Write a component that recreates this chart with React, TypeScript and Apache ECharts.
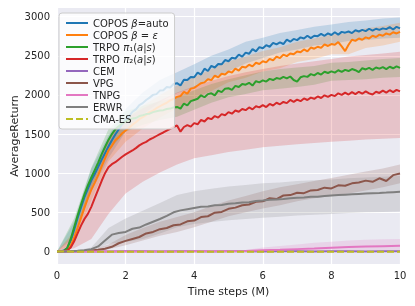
import React, { useEffect, useRef } from 'react';
import * as echarts from 'echarts';

const TIME = [
  0, 0.1, 0.2, 0.3, 0.4, 0.5, 0.6, 0.7, 0.8, 0.9,
  1, 1.1, 1.2, 1.3, 1.4, 1.5, 1.6, 1.7, 1.8, 1.9,
  2, 2.1, 2.2, 2.3, 2.4, 2.5, 2.6, 2.7, 2.8, 2.9,
  3, 3.1, 3.2, 3.3, 3.4, 3.5, 3.6, 3.7, 3.8, 3.9,
  4, 4.1, 4.2, 4.3, 4.4, 4.5, 4.6, 4.7, 4.8, 4.9,
  5, 5.1, 5.2, 5.3, 5.4, 5.5, 5.6, 5.7, 5.8, 5.9,
  6, 6.1, 6.2, 6.3, 6.4, 6.5, 6.6, 6.7, 6.8, 6.9,
  7, 7.1, 7.2, 7.3, 7.4, 7.5, 7.6, 7.7, 7.8, 7.9,
  8, 8.1, 8.2, 8.3, 8.4, 8.5, 8.6, 8.7, 8.8, 8.9,
  9, 9.1, 9.2, 9.3, 9.4, 9.5, 9.6, 9.7, 9.8, 9.9,
  10,
];
const TIME_MID = [
  0, 0.2, 0.4, 0.6, 0.8, 1, 1.2, 1.4, 1.6, 1.8,
  2, 2.2, 2.4, 2.6, 2.8, 3, 3.2, 3.4, 3.6, 3.8,
  4, 4.2, 4.4, 4.6, 4.8, 5, 5.2, 5.4, 5.6, 5.8,
  6, 6.2, 6.4, 6.6, 6.8, 7, 7.2, 7.4, 7.6, 7.8,
  8, 8.2, 8.4, 8.6, 8.8, 9, 9.2, 9.4, 9.6, 9.8,
  10,
];
const TIME_COARSE = [0, 0.5, 1, 1.5, 2, 2.5, 3, 3.5, 4, 4.5, 5, 5.5, 6, 6.5, 7, 7.5, 8, 8.5, 9, 9.5, 10];

const Y_TICKS = [0, 500, 1000, 1500, 2000, 2500, 3000];

// mean curves (fine resolution)
const COPOS_AUTO = [
  0, 3, 12, 45, 135, 275, 425, 560, 690, 800,
  905, 990, 1080, 1170, 1255, 1340, 1420, 1495, 1560, 1625,
  1680, 1725, 1785, 1815, 1870, 1895, 1935, 1965, 2000, 2010,
  2055, 2060, 2100, 2095, 2140, 2150, 2120, 2195, 2190, 2230,
  2225, 2285, 2260, 2335, 2305, 2370, 2350, 2395, 2390, 2445,
  2430, 2475, 2465, 2515, 2490, 2540, 2525, 2585, 2555, 2610,
  2595, 2635, 2615, 2665, 2645, 2670, 2650, 2705, 2680, 2715,
  2700, 2735, 2720, 2755, 2725, 2755, 2750, 2780, 2755, 2785,
  2765, 2800, 2770, 2805, 2795, 2810, 2790, 2825, 2810, 2830,
  2815, 2845, 2820, 2845, 2830, 2850, 2840, 2865, 2835, 2870,
  2850,
];
const COPOS_EPS = [
  0, 2, 6, 22, 75, 175, 300, 430, 560, 680,
  790, 880, 975, 1085, 1190, 1290, 1350, 1420, 1460, 1510,
  1545, 1580, 1620, 1650, 1690, 1715, 1745, 1780, 1800, 1830,
  1855, 1880, 1900, 1930, 1950, 1975, 1985, 2040, 2015, 2080,
  2090, 2120, 2150, 2160, 2200, 2190, 2245, 2225, 2270, 2260,
  2300, 2285, 2335, 2310, 2360, 2350, 2385, 2365, 2410, 2395,
  2430, 2415, 2460, 2440, 2490, 2470, 2515, 2495, 2530, 2520,
  2555, 2545, 2580, 2555, 2605, 2590, 2615, 2600, 2645, 2625,
  2650, 2640, 2675, 2620, 2560, 2640, 2705, 2690, 2720, 2705,
  2735, 2720, 2755, 2740, 2770, 2755, 2785, 2770, 2800, 2785,
  2805,
];
const TRPO_PI1 = [
  0, 3, 8, 45, 160, 310, 460, 600, 730, 845,
  945, 1040, 1135, 1240, 1335, 1425, 1500, 1560, 1600, 1635,
  1660, 1680, 1700, 1705, 1730, 1740, 1755, 1760, 1780, 1790,
  1800, 1805, 1820, 1825, 1840, 1846, 1825, 1890, 1865, 1920,
  1935, 1950, 1995, 1970, 2010, 2020, 1995, 2055, 2035, 2080,
  2085, 2065, 2115, 2100, 2140, 2130, 2155, 2120, 2175, 2160,
  2185, 2170, 2205, 2190, 2215, 2205, 2230, 2210, 2235, 2190,
  2170, 2225, 2240, 2230, 2265, 2250, 2280, 2260, 2295, 2280,
  2300, 2285, 2315, 2295, 2320, 2305, 2330, 2315, 2290, 2340,
  2325, 2345, 2320, 2350, 2335, 2355, 2330, 2360, 2340, 2365,
  2345,
];
const TRPO_PI2 = [
  0, 2, 5, 12, 50, 130, 230, 330, 415, 480,
  570, 680, 790, 900, 1000, 1075, 1115, 1140, 1175, 1210,
  1240, 1265, 1290, 1320, 1355, 1380, 1400, 1430, 1450, 1475,
  1500, 1520, 1545, 1565, 1590, 1610, 1530, 1590, 1615, 1595,
  1640, 1625, 1680, 1660, 1705, 1690, 1730, 1710, 1755, 1740,
  1780, 1760, 1800, 1785, 1820, 1805, 1840, 1815, 1855, 1840,
  1870, 1845, 1885, 1865, 1900, 1880, 1910, 1895, 1935, 1910,
  1940, 1920, 1955, 1935, 1965, 1950, 1980, 1960, 1995, 1975,
  2000, 1985, 2020, 2000, 2030, 2005, 2035, 2010, 2040, 2015,
  2045, 2020, 2005, 2040, 2025, 2055, 2030, 2060, 2035, 2065,
  2045,
];
// medium resolution
const VPG = [
  0, 1, 2, 4, 8, 14, 22, 35, 60, 105,
  135, 160, 185, 230, 250, 285, 300, 335, 345, 385,
  395, 440, 450, 495, 505, 545, 560, 590, 600, 635,
  640, 680, 670, 715, 720, 750, 745, 780, 785, 815,
  805, 845, 840, 870, 880, 905, 890, 935, 900, 975,
  995,
];
const ERWR = [
  0, 1, 3, 8, 15, 30, 65, 140, 215, 235,
  250, 290, 305, 345, 380, 415, 455, 500, 525, 540,
  555, 570, 575, 590, 595, 610, 615, 625, 630, 645,
  650, 660, 665, 670, 680, 685, 690, 700, 700, 710,
  715, 720, 725, 730, 735, 740, 745, 748, 752, 758,
  762,
];
// coarse resolution
const TNPG = [0, 0, 0, 0, 1, 1, 1, 1, 2, 2, 3, 6, 15, 22, 30, 38, 48, 58, 63, 68, 72];
const CEM = [0, 1, 2, 1, 2, 2, 1, 2, 2, 1, 2, 2, 1, 2, 2, 1, 2, 2, 1, 2, 2];
const CMA_ES = [0, -2, -3, -2, -3, -3, -2, -3, -3, -2, -3, -3, -2, -3, -3, -2, -3, -3, -2, -3, -3];

// bands (coarse resolution)
const COPOS_AUTO_UP = [0, 380, 1060, 1480, 1820, 2030, 2190, 2290, 2390, 2500, 2580, 2680, 2730, 2790, 2830, 2870, 2900, 2930, 2950, 2975, 2990];
const COPOS_AUTO_LO = [0, 180, 760, 1190, 1530, 1750, 1910, 2020, 2100, 2220, 2300, 2400, 2470, 2540, 2580, 2630, 2650, 2690, 2700, 2720, 2730];
const COPOS_EPS_UP = [0, 260, 930, 1430, 1690, 1860, 2000, 2120, 2230, 2330, 2430, 2490, 2560, 2610, 2680, 2720, 2770, 2790, 2850, 2880, 2920];
const COPOS_EPS_LO = [0, 100, 650, 1150, 1400, 1570, 1710, 1830, 1950, 2050, 2160, 2220, 2300, 2340, 2420, 2460, 2520, 2520, 2600, 2630, 2680];
const TRPO_PI1_UP = [0, 420, 1070, 1560, 1790, 1860, 1920, 1970, 2060, 2140, 2200, 2250, 2300, 2330, 2350, 2370, 2410, 2420, 2440, 2460, 2470];
const TRPO_PI1_LO = [0, 210, 820, 1290, 1530, 1620, 1680, 1720, 1810, 1900, 1970, 2010, 2060, 2080, 2100, 2130, 2180, 2190, 2200, 2220, 2230];
const TRPO_PI2_UP = [0, 220, 900, 1450, 1700, 1830, 1930, 2030, 2110, 2180, 2240, 2290, 2330, 2370, 2400, 2430, 2460, 2490, 2510, 2530, 2550];
const TRPO_PI2_LO = [0, 40, 160, 480, 740, 890, 1010, 1110, 1190, 1230, 1270, 1300, 1330, 1350, 1370, 1385, 1400, 1415, 1430, 1440, 1450];
const VPG_UP = [0, 3, 25, 90, 210, 300, 380, 440, 500, 580, 650, 710, 770, 820, 860, 900, 940, 980, 1020, 1060, 1110];
const VPG_LO = [0, 0, 5, 30, 80, 140, 200, 250, 310, 380, 450, 500, 550, 590, 640, 680, 710, 740, 780, 820, 870];
const ERWR_UP = [0, 8, 50, 300, 420, 520, 620, 720, 770, 800, 830, 850, 870, 880, 900, 910, 920, 935, 945, 955, 965];
const ERWR_LO = [0, 2, 15, 100, 120, 160, 230, 310, 350, 375, 400, 415, 430, 445, 460, 470, 480, 490, 500, 505, 510];
const TNPG_UP = [0, 0, 1, 1, 2, 2, 3, 3, 4, 5, 8, 20, 50, 70, 90, 110, 125, 140, 150, 155, 160];
const TNPG_LO = [0, 0, 0, 0, 0, 0, 0, 0, 0, 0, 0, 0, 0, 0, 2, 5, 8, 10, 12, 14, 15];

const NAMES = ['COPOS β=auto', 'COPOS β = ε', 'TRPO π₁(a|s)', 'TRPO π₂(a|s)', 'CEM', 'VPG', 'TNPG', 'ERWR', 'CMA-ES'];
const COLORS = ['#1f77b4', '#ff7f0e', '#2ca02c', '#d62728', '#9467bd', '#8c564b', '#e377c2', '#7f7f7f', '#bcbd22'];

const zip = (xs: number[], ys: number[]) => xs.map((x, i) => [x, ys[i]]);

function band(up: number[], lo: number[], color: string, opacity: number) {
  return {
    type: 'custom',
    silent: true,
    z: 1,
    data: [[0, 0]],
    encode: { x: 0, y: 1 },
    renderItem: (_p: any, api: any) => {
      const pts: number[][] = [];
      for (let i = 0; i < TIME_COARSE.length; i++) pts.push(api.coord([TIME_COARSE[i], up[i]]));
      for (let i = TIME_COARSE.length - 1; i >= 0; i--) pts.push(api.coord([TIME_COARSE[i], lo[i]]));
      return { type: 'polygon', shape: { points: pts }, style: { fill: color, opacity } };
    },
  };
}

function line(name: string, xs: number[], ys: number[], color: string, dashed = false) {
  return {
    type: 'line',
    name,
    data: zip(xs, ys),
    showSymbol: false,
    symbol: 'none',
    z: 3,
    color,
    lineStyle: { color, width: 2, type: dashed ? [7, 3] : 'solid' },
    emphasis: { disabled: true },
  };
}

const FONT = 'DejaVu Sans';
const TXT = '#262626';

export default function App() {
  const ref = useRef<HTMLDivElement>(null);
  useEffect(() => {
    const chart = echarts.init(ref.current!, null, { renderer: 'svg' });
    const legendFmt: Record<string, string> = {
      'COPOS β=auto': 'COPOS {i|β}=auto',
      'COPOS β = ε': 'COPOS {i|β} = {i|ε}',
      'TRPO π₁(a|s)': 'TRPO {i|π}₁({i|a}|{i|s})',
      'TRPO π₂(a|s)': 'TRPO {i|π}₂({i|a}|{i|s})',
    };
    const option: any = {
      animation: false,
      textStyle: { fontFamily: FONT },
      grid: {
        left: 57, right: 15, top: 8, bottom: 42, show: true,
        backgroundColor: '#EAEAF2', borderWidth: 0, outerBoundsMode: 'none', containLabel: false,
      },
      xAxis: {
        type: 'value', min: 0, max: 10, interval: 2,
        axisLine: { show: false }, axisTick: { show: false },
        splitLine: { show: true, lineStyle: { color: '#ffffff', width: 1.2 } },
        axisLabel: { color: TXT, fontSize: 10, margin: 6, fontFamily: FONT },
        name: 'Time steps (M)', nameLocation: 'middle', nameGap: 22, nameMoveOverlap: false,
        nameTextStyle: { color: TXT, fontSize: 11, fontFamily: FONT },
      },
      yAxis: {
        type: 'value', min: -160, max: 3110,
        axisLine: { show: false },
        axisTick: { show: false, customValues: Y_TICKS },
        splitLine: { show: true, lineStyle: { color: '#ffffff', width: 1.2 } },
        axisLabel: {
          color: TXT, fontSize: 10, margin: 7, fontFamily: FONT, customValues: Y_TICKS,
          formatter: (v: number) => String(v),
        },
        name: 'AverageReturn', nameLocation: 'middle', nameGap: 37, nameMoveOverlap: false,
        nameTextStyle: { color: TXT, fontSize: 11, fontFamily: FONT },
      },
      legend: {
        data: NAMES,
        orient: 'vertical', left: 59, top: 13,
        padding: [4, 6, 4, 6],
        itemWidth: 22, itemHeight: 12, itemGap: 0,
        itemStyle: { opacity: 0 },
        backgroundColor: 'rgba(255,255,255,0.8)', borderColor: '#cccccc', borderWidth: 1, borderRadius: 3,
        textStyle: {
          color: TXT, fontSize: 10, fontFamily: FONT, lineHeight: 12,
          rich: { i: { fontStyle: 'italic', fontSize: 10, color: TXT, fontFamily: FONT, lineHeight: 12 } },
        },
        formatter: (n: string) => legendFmt[n] || n,
      },
      series: [
        band(COPOS_AUTO_UP, COPOS_AUTO_LO, COLORS[0], 0.2),
        band(COPOS_EPS_UP, COPOS_EPS_LO, COLORS[1], 0.2),
        band(TRPO_PI1_UP, TRPO_PI1_LO, COLORS[2], 0.2),
        band(TRPO_PI2_UP, TRPO_PI2_LO, COLORS[3], 0.2),
        band(VPG_UP, VPG_LO, COLORS[5], 0.2),
        band(TNPG_UP, TNPG_LO, COLORS[6], 0.2),
        band(ERWR_UP, ERWR_LO, COLORS[7], 0.2),
        line(NAMES[0], TIME, COPOS_AUTO, COLORS[0]),
        line(NAMES[1], TIME, COPOS_EPS, COLORS[1]),
        line(NAMES[2], TIME, TRPO_PI1, COLORS[2]),
        line(NAMES[3], TIME, TRPO_PI2, COLORS[3]),
        line(NAMES[4], TIME_COARSE, CEM, COLORS[4]),
        line(NAMES[5], TIME_MID, VPG, COLORS[5]),
        line(NAMES[6], TIME_COARSE, TNPG, COLORS[6]),
        line(NAMES[7], TIME_MID, ERWR, COLORS[7]),
        line(NAMES[8], TIME_COARSE, CMA_ES, COLORS[8], true),
      ],
    };
    chart.setOption(option);
    return () => chart.dispose();
  }, []);
  return <div ref={ref} style={{ position: 'fixed', left: 0, top: 0, width: 415, height: 306 }} />;
}
